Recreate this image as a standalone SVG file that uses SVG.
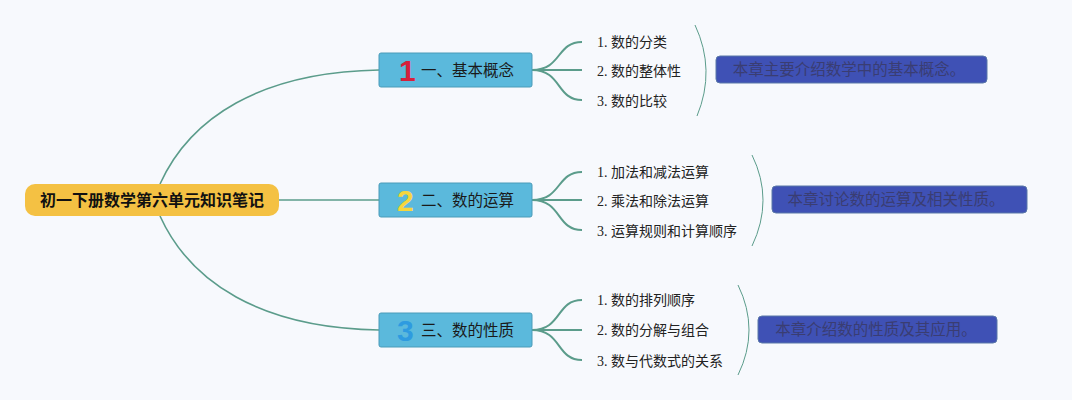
<svg xmlns="http://www.w3.org/2000/svg" width="1072" height="400" viewBox="0 0 1072 400">
<style>
.bg{fill:#F7F9FD}
.conn{fill:none;stroke:#5B9C8B;stroke-width:1.6}
.leafc{fill:none;stroke:#5B9C8B;stroke-width:2}
.brace{fill:none;stroke:#5B9C8B;stroke-width:1}
.root rect{fill:#F4C143}
.root text{font-family:"Liberation Sans","Noto Sans CJK SC",sans-serif;font-size:16px;font-weight:bold;fill:#111;text-anchor:middle}
.topic rect{fill:#5BB9DC;stroke:#4A9BB8;stroke-width:1}
.topic .t{font-family:"Liberation Sans","Noto Sans CJK SC",sans-serif;font-size:15.5px;fill:#1a1a1a}
.topic .n{font-family:"Liberation Sans",sans-serif;font-size:30px;font-weight:bold}
.leaf text{font-family:"Liberation Serif","Noto Sans CJK SC",serif;font-size:14px;fill:#222}
.sum rect{fill:#3F51B5;stroke:#5A78A8;stroke-width:1}
.sum text{font-family:"Liberation Sans","Noto Sans CJK SC",sans-serif;font-size:15.5px;fill:#3A3D72;text-anchor:middle}
</style>
<rect class="bg" x="0" y="0" width="1072" height="400"/>
<g id="connectors">
<path class="conn" d="M160,184 C190,118 260,72 379,70"/>
<path class="conn" d="M279,200 L379,200"/>
<path class="conn" d="M160,216 C190,282 260,328 379,330"/>
<path class="leafc" d="M532,70 C562,70 556,42 582,42"/>
<path class="leafc" d="M532,70 L582,70"/>
<path class="leafc" d="M532,70 C562,70 556,100 582,100"/>
<path class="leafc" d="M532,200 C562,200 556,172 582,172"/>
<path class="leafc" d="M532,200 L582,200"/>
<path class="leafc" d="M532,200 C562,200 556,230 582,230"/>
<path class="leafc" d="M532,330 C562,330 556,300 582,300"/>
<path class="leafc" d="M532,330 L582,330"/>
<path class="leafc" d="M532,330 C562,330 556,360 582,360"/>
<path class="brace" d="M695,25 Q716,70 697,116"/>
<path class="brace" d="M752,155 Q774,200 752,246"/>
<path class="brace" d="M738,285 Q760,330 738,375"/>
</g>
<g id="root" class="root">
<rect x="25" y="184" width="254" height="32" rx="10"/>
<text x="152" y="205.5">初一下册数学第六单元知识笔记</text>
</g>
<g id="topic1" class="topic">
<rect x="379" y="53" width="153" height="34" rx="2"/>
<text class="n" x="399" y="81" fill="#D6213B">1</text>
<text class="t" x="421" y="76">一、基本概念</text>
</g>
<g id="topic2" class="topic">
<rect x="379" y="183" width="153" height="34" rx="2"/>
<text class="n" x="397" y="211" fill="#F5D63D">2</text>
<text class="t" x="421" y="206">二、数的运算</text>
</g>
<g id="topic3" class="topic">
<rect x="379" y="313" width="153" height="34" rx="2"/>
<text class="n" x="397" y="341" fill="#2E9BE0">3</text>
<text class="t" x="421" y="336">三、数的性质</text>
</g>
<g id="leaf1-1" class="leaf"><text x="597" y="47">1. 数的分类</text></g>
<g id="leaf1-2" class="leaf"><text x="597" y="76">2. 数的整体性</text></g>
<g id="leaf1-3" class="leaf"><text x="597" y="106">3. 数的比较</text></g>
<g id="leaf2-1" class="leaf"><text x="597" y="177">1. 加法和减法运算</text></g>
<g id="leaf2-2" class="leaf"><text x="597" y="206">2. 乘法和除法运算</text></g>
<g id="leaf2-3" class="leaf"><text x="597" y="236">3. 运算规则和计算顺序</text></g>
<g id="leaf3-1" class="leaf"><text x="597" y="305">1. 数的排列顺序</text></g>
<g id="leaf3-2" class="leaf"><text x="597" y="335">2. 数的分解与组合</text></g>
<g id="leaf3-3" class="leaf"><text x="597" y="366">3. 数与代数式的关系</text></g>
<g id="summary1" class="sum">
<rect x="716" y="56" width="271" height="27" rx="4"/>
<text x="849" y="75">本章主要介绍数学中的基本概念。</text>
</g>
<g id="summary2" class="sum">
<rect x="772" y="186" width="255" height="27" rx="4"/>
<text x="896" y="205">本章讨论数的运算及相关性质。</text>
</g>
<g id="summary3" class="sum">
<rect x="758" y="316" width="239" height="27" rx="4"/>
<text x="876" y="335">本章介绍数的性质及其应用。</text>
</g>
</svg>
